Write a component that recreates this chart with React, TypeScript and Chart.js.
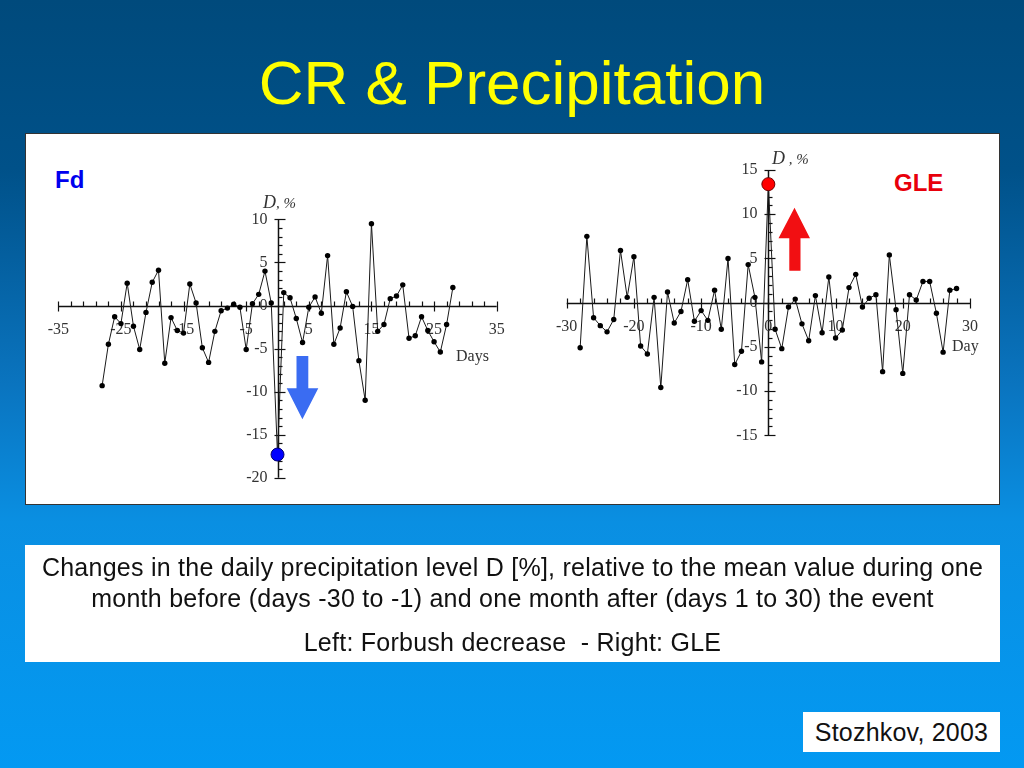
import React, { useEffect, useRef } from "react";
import { Chart, registerables } from "chart.js";

Chart.register(...registerables);

// ---------- data ----------
const fdDays = [
  -28, -27, -26, -25, -24, -23, -22, -21, -20, -19, -18, -17, -16, -15, -14, -13, -12, -11, -10, -9, -8, -7, -6, -5, -4, -3, -2, -1,
  0, 1, 2, 3, 4, 5, 6, 7, 8, 9, 10, 11, 12, 13, 14, 15, 16, 17, 18, 19, 20, 21, 22, 23, 24, 25, 26, 27, 28,
];
const fdValues = [
  -9.3, -4.5, -1.3, -2.1, 2.6, -2.4, -5.1, -0.8, 2.7, 4.1, -6.7, -1.4, -2.9, -3.2, 2.5, 0.3, -4.9, -6.6, -3.0, -0.6, -0.3, 0.15, -0.2, -5.1, 0.2, 1.3, 4.0, 0.3,
  -17.3, 1.5, 0.9, -1.5, -4.3, -0.2, 1.0, -0.9, 5.8, -4.5, -2.6, 1.6, -0.1, -6.4, -11.0, 9.5, -3.0, -2.2, 0.8, 1.1, 2.4, -3.8, -3.5, -1.3, -2.9, -4.2, -5.4, -2.2, 2.1,
];
const gleDays = [
  -28, -27, -26, -25, -24, -23, -22, -21, -20, -19, -18, -17, -16, -15, -14, -13, -12, -11, -10, -9, -8, -7, -6, -5, -4, -3, -2, -1,
  0, 1, 2, 3, 4, 5, 6, 7, 8, 9, 10, 11, 12, 13, 14, 15, 16, 17, 18, 19, 20, 21, 22, 23, 24, 25, 26, 27, 28,
];
const gleValues = [
  -5.1, 7.5, -1.7, -2.6, -3.3, -1.9, 5.9, 0.6, 5.2, -4.9, -5.8, 0.6, -9.6, 1.2, -2.3, -1.0, 2.6, -2.1, -0.9, -2.0, 1.4, -3.0, 5.0, -7.0, -5.5, 4.3, 0.6, -6.7,
  13.4, -3.0, -5.2, -0.5, 0.4, -2.4, -4.3, 0.8, -3.4, 2.9, -4.0, -3.1, 1.7, 3.2, -0.5, 0.5, 0.9, -7.8, 5.4, -0.8, -8.0, 0.9, 0.3, 2.4, 2.4, -1.2, -5.6, 1.4, 1.6,
];

const fdXLabels = [-35, -25, -15, -5, 5, 15, 25, 35];
const fdYLabels = [10, 5, 0, -5, -10, -15, -20];
const gleXLabels = [-30, -20, -10, 0, 10, 20, 30];
const gleYLabels = [15, 10, 5, 0, -5, -10, -15];

// ---------- axis plugin ----------
const axisDecor = {
  id: "axisDecor",
  beforeDatasetsDraw(chart: any, _args: any, opts: any) {
    const { ctx } = chart;
    const xs = chart.scales.x;
    const ys = chart.scales.y;
    const x0 = Math.round(xs.getPixelForValue(0)) + 0.5;
    const y0 = Math.round(ys.getPixelForValue(0)) + 0.5;
    ctx.save();
    ctx.strokeStyle = "#111";
    ctx.lineWidth = 1.5;
    ctx.beginPath();
    ctx.moveTo(xs.left, y0);
    ctx.lineTo(xs.right, y0);
    ctx.moveTo(x0, ys.top);
    ctx.lineTo(x0, ys.bottom);
    ctx.stroke();
    ctx.lineWidth = 1.2;
    for (let v = xs.min; v <= xs.max + 1e-9; v += opts.xMinor) {
      const px = Math.round(xs.getPixelForValue(v)) + 0.5;
      const major = opts.xLabels.includes(v);
      ctx.beginPath();
      ctx.moveTo(px, y0 - 5);
      ctx.lineTo(px, major ? y0 + 5 : y0);
      ctx.stroke();
    }
    for (let v = ys.min; v <= ys.max + 1e-9; v += 1) {
      const py = Math.round(ys.getPixelForValue(v)) + 0.5;
      const major = opts.yLabels.includes(v);
      ctx.beginPath();
      ctx.moveTo(major ? x0 - 4 : x0, py);
      ctx.lineTo(major ? x0 + 7 : x0 + 4, py);
      ctx.stroke();
    }
    ctx.fillStyle = "#333";
    ctx.font = '16px "Liberation Serif", "Times New Roman", serif';
    ctx.textAlign = "center";
    ctx.textBaseline = "middle";
    opts.xLabels.forEach((v: number) => {
      ctx.fillText(String(v), xs.getPixelForValue(v), y0 + 23);
    });
    ctx.textAlign = "right";
    opts.yLabels.forEach((v: number) => {
      ctx.fillText(String(v), x0 - 11, ys.getPixelForValue(v));
    });
    ctx.restore();
  },
};

type Box = { left: number; top: number; width: number; height: number };
type Area = { left: number; top: number; right: number; bottom: number };

function PanelChart(props: {
  days: number[];
  values: number[];
  eventFill: string;
  eventBorder: string;
  xMin: number;
  xMax: number;
  xMinor: number;
  xLabels: number[];
  yMin: number;
  yMax: number;
  yLabels: number[];
  box: Box;
  area: Area;
}) {
  const ref = useRef<HTMLCanvasElement | null>(null);
  const { days, values, box, area } = props;
  useEffect(() => {
    if (!ref.current) return;
    const pts = days.map((d, i) => ({ x: d, y: values[i] }));
    const isEvent = (i: number) => days[i] === 0;
    const chart = new Chart(ref.current, {
      type: "scatter",
      data: {
        datasets: [
          {
            data: pts,
            showLine: true,
            borderColor: "#1a1a1a",
            borderWidth: 1,
            tension: 0,
            pointRadius: (c: any) => (isEvent(c.dataIndex) ? 6.5 : 2.7),
            pointBackgroundColor: (c: any) => (isEvent(c.dataIndex) ? props.eventFill : "#000"),
            pointBorderColor: (c: any) => (isEvent(c.dataIndex) ? props.eventBorder : "#000"),
            pointBorderWidth: (c: any) => (isEvent(c.dataIndex) ? 1 : 0),
          } as any,
        ],
      },
      options: {
        animation: false,
        responsive: false,
        maintainAspectRatio: false,
        events: [],
        layout: {
          padding: {
            left: area.left - box.left,
            top: area.top - box.top,
            right: box.left + box.width - area.right,
            bottom: box.top + box.height - area.bottom,
          },
        },
        plugins: {
          legend: { display: false },
          tooltip: { enabled: false },
          axisDecor: {
            xMinor: props.xMinor,
            xLabels: props.xLabels,
            yLabels: props.yLabels,
          },
        } as any,
        scales: {
          x: {
            type: "linear",
            min: props.xMin,
            max: props.xMax,
            position: { y: 0 } as any,
            ticks: { display: false },
            grid: { display: false, drawTicks: false },
            border: { display: false },
            afterFit: (s: any) => {
              s.height = 0;
            },
          },
          y: {
            type: "linear",
            min: props.yMin,
            max: props.yMax,
            position: { x: 0 } as any,
            ticks: { display: false },
            grid: { display: false, drawTicks: false },
            border: { display: false },
            afterFit: (s: any) => {
              s.width = 0;
            },
          },
        },
      },
      plugins: [axisDecor as any],
    });
    return () => chart.destroy();
  }, []);
  return (
    <canvas
      ref={ref}
      width={box.width}
      height={box.height}
      style={{ position: "absolute", left: box.left, top: box.top, width: box.width, height: box.height }}
    />
  );
}

const serif = '"Liberation Serif", "Times New Roman", serif';
const sans = '"Liberation Sans", Arial, Helvetica, sans-serif';

export default function App() {
  useEffect(() => {
    document.body.style.margin = "0";
  }, []);
  const textLine = (top: number, text: string) => (
    <div
      style={{
        position: "absolute",
        left: 25,
        width: 975,
        top,
        height: 30,
        lineHeight: "30px",
        textAlign: "center",
        fontSize: 25,
        letterSpacing: 0.25,
        color: "#111",
        whiteSpace: "pre",
      }}
    >
      {text}
    </div>
  );
  return (
    <div
      style={{
        position: "absolute",
        left: 0,
        top: 0,
        width: 1024,
        height: 768,
        overflow: "hidden",
        fontFamily: sans,
        background: "linear-gradient(180deg, #004a7c 0%, #005189 22%, #0a74bf 50%, #0a8fe2 68%, #0399f2 100%)",
      }}
    >
      <div
        style={{
          position: "absolute",
          left: 0,
          width: 1024,
          top: 48,
          height: 70,
          lineHeight: "70px",
          textAlign: "center",
          fontSize: 62,
          color: "#ffff00",
          whiteSpace: "nowrap",
        }}
      >
        CR &amp; Precipitation
      </div>

      <div
        style={{
          position: "absolute",
          left: 25,
          top: 133,
          width: 975,
          height: 372,
          boxSizing: "border-box",
          background: "#fff",
          border: "1px solid #333",
        }}
      />
      <div style={{ position: "absolute", left: 55, top: 166, fontSize: 24, fontWeight: "bold", color: "#0000ee", lineHeight: "28px" }}>
        Fd
      </div>
      <div style={{ position: "absolute", left: 894, top: 169, fontSize: 24, fontWeight: "bold", color: "#e8000b", lineHeight: "28px" }}>
        GLE
      </div>

      <PanelChart
        days={fdDays}
        values={fdValues}
        eventFill="#0000ff"
        eventBorder="#000070"
        xMin={-35}
        xMax={35}
        xMinor={2}
        xLabels={fdXLabels}
        yMin={-20}
        yMax={10}
        yLabels={fdYLabels}
        box={{ left: 30, top: 200, width: 500, height: 295 }}
        area={{ left: 58.3, top: 219.4, right: 496.7, bottom: 477.8 }}
      />
      <PanelChart
        days={gleDays}
        values={gleValues}
        eventFill="#ff0000"
        eventBorder="#700000"
        xMin={-30}
        xMax={30}
        xMinor={2}
        xLabels={gleXLabels}
        yMin={-15}
        yMax={15}
        yLabels={gleYLabels}
        box={{ left: 540, top: 150, width: 450, height: 310 }}
        area={{ left: 566.7, top: 170, right: 970, bottom: 435.3 }}
      />

      <div style={{ position: "absolute", left: 263, top: 192, fontFamily: serif, color: "#333", whiteSpace: "nowrap", lineHeight: "20px" }}>
        <span style={{ fontStyle: "italic", fontSize: 18 }}>D</span>
        <span style={{ fontStyle: "italic", fontSize: 15 }}>, %</span>
      </div>
      <div style={{ position: "absolute", left: 772, top: 148, fontFamily: serif, color: "#333", whiteSpace: "nowrap", lineHeight: "20px" }}>
        <span style={{ fontStyle: "italic", fontSize: 18 }}>D</span>
        <span style={{ fontStyle: "italic", fontSize: 15 }}> , %</span>
      </div>
      <div style={{ position: "absolute", left: 456, top: 346, fontFamily: serif, fontSize: 16, color: "#333", lineHeight: "20px" }}>Days</div>
      <div style={{ position: "absolute", left: 952, top: 336, fontFamily: serif, fontSize: 16, color: "#333", lineHeight: "20px" }}>Day</div>

      <svg width={1024} height={768} style={{ position: "absolute", left: 0, top: 0, pointerEvents: "none" }}>
        <polygon points="296.5,356 308.3,356 308.3,388.3 318.3,388.3 302.4,419.3 286.7,388.3 296.5,388.3" fill="#3a6cf2" />
        <polygon points="794.5,207.7 810,238.3 800.5,238.3 800.5,270.7 789.3,270.7 789.3,238.3 778.5,238.3" fill="#f20f12" />
      </svg>

      <div style={{ position: "absolute", left: 25, top: 545, width: 975, height: 117, background: "#fff" }} />
      {textLine(552, "Changes in the daily precipitation level D [%], relative to the mean value during one")}
      {textLine(583, "month before (days -30 to -1) and one month after (days 1 to 30) the event")}
      {textLine(627, "Left: Forbush decrease  - Right: GLE")}

      <div
        style={{
          position: "absolute",
          left: 803,
          top: 712,
          width: 197,
          height: 40,
          background: "#fff",
          lineHeight: "40px",
          textAlign: "center",
          fontSize: 25,
          letterSpacing: 0.2,
          color: "#111",
          whiteSpace: "pre",
        }}
      >
        Stozhkov, 2003
      </div>
    </div>
  );
}
